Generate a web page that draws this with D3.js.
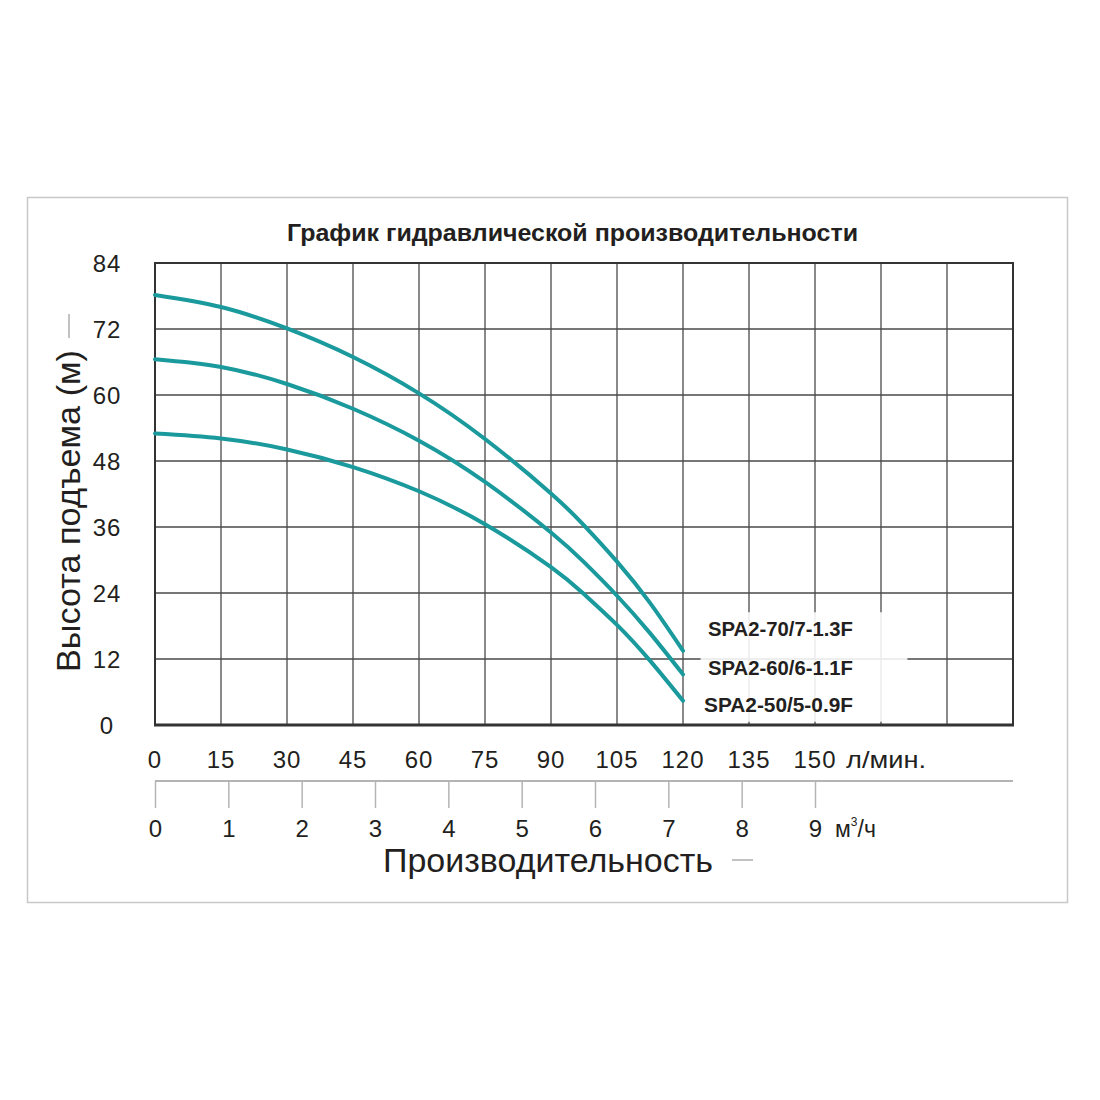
<!DOCTYPE html>
<html>
<head>
<meta charset="utf-8">
<script src="https://cdn.jsdelivr.net/npm/d3@7"></script>
<style>
  body { margin: 0; background: #fff; }
  text { font-family: Arial, "Liberation Sans", sans-serif; fill: #231f20; }
</style>
</head>
<body>
<div id="chart"></div>
<script>
// flow points (l/min) the curves were read at
var flow = [0, 15, 30, 45, 60, 75, 90, 97.5, 105, 112.5, 120]

// head (m) for each pump
var head70 = [78.2, 76.0, 72.1, 66.9, 60.3, 52.0, 42.1, 36.3, 29.7, 22.2, 13.5]
var head60 = [66.5, 65.1, 62.0, 57.5, 51.7, 44.2, 35.0, 29.6, 23.5, 16.7, 9.2]
var head50 = [53.0, 52.1, 50.1, 46.9, 42.5, 36.5, 28.7, 23.8, 18.2, 11.7, 4.4]

var pumpNames = ["SPA2-70/7-1.3F", "SPA2-60/6-1.1F", "SPA2-50/5-0.9F"]

// tick labels
var flowTicks = [0, 15, 30, 45, 60, 75, 90, 105, 120, 135, 150]
var flowGrid = [0, 15, 30, 45, 60, 75, 90, 105, 120, 135, 150, 165, 180, 195]
var headTicks = [0, 12, 24, 36, 48, 60, 72, 84]
var cubicTicks = [0, 1, 2, 3, 4, 5, 6, 7, 8, 9]

var title = "График гидравлической производительности"
var yTitle = "Высота подъема (м)"
var xTitle = "Производительность"

var dims = {
    width: 1100,
    height: 1100,
    margin: { top: 263, left: 155, right: 87, bottom: 375 }
}
var plotW = dims.width - dims.margin.left - dims.margin.right   // 858
var plotH = dims.height - dims.margin.top - dims.margin.bottom  // 462

var svg = d3.select("#chart")
    .append("svg")
    .attr("width", dims.width)
    .attr("height", dims.height)

// outer frame
svg.append("rect")
    .attr("x", 27.5).attr("y", 197.5)
    .attr("width", 1040).attr("height", 705)
    .attr("fill", "none")
    .attr("stroke", "#c8c8c8")
    .attr("stroke-width", 1.5)

svg.append("text")
    .attr("x", 287).attr("y", 241)
    .attr("font-size", 24)
    .attr("font-weight", "bold")
    .attr("textLength", 571)
    .attr("lengthAdjust", "spacingAndGlyphs")
    .text(title)

var x = d3.scaleLinear().domain([0, 195]).range([dims.margin.left, dims.margin.left + plotW])
var y = d3.scaleLinear().domain([0, 84]).range([dims.margin.top + plotH, dims.margin.top])
// m3/h : 1 m3/h = 1000/60 l/min
var xm = d3.scaleLinear().domain([0, 195 * 60 / 1000]).range(x.range())

// grid
var grid = svg.append("g")
grid.selectAll("line.v")
    .data(flowGrid)
    .enter().append("line")
    .attr("class", "v")
    .attr("x1", function (d) { return x(d) }).attr("x2", function (d) { return x(d) })
    .attr("y1", y(0)).attr("y2", y(84))
    .attr("stroke", "#4a4a4a").attr("stroke-width", 1.3)
grid.selectAll("line.h")
    .data(headTicks)
    .enter().append("line")
    .attr("class", "h")
    .attr("x1", x(0)).attr("x2", x(195))
    .attr("y1", function (d) { return y(d) }).attr("y2", function (d) { return y(d) })
    .attr("stroke", "#4a4a4a").attr("stroke-width", 1.3)

// white box behind the pump names
svg.append("rect")
    .attr("x", x(124)).attr("y", y(20.5))
    .attr("width", x(171) - x(124)).attr("height", y(0.6) - y(20.5))
    .attr("fill", "#fff").attr("opacity", 0.88)

// frame borders
svg.append("rect")
    .attr("x", x(0)).attr("y", y(84))
    .attr("width", plotW).attr("height", plotH)
    .attr("fill", "none").attr("stroke", "#333").attr("stroke-width", 2)
svg.append("line")
    .attr("x1", x(0) - 1).attr("x2", x(195) + 1)
    .attr("y1", y(0)).attr("y2", y(0))
    .attr("stroke", "#333").attr("stroke-width", 3)

// curves
var line = d3.line()
    .x(function (d) { return x(d[0]) })
    .y(function (d) { return y(d[1]) })
    .curve(d3.curveNatural)

var series = [head70, head60, head50]
svg.append("g")
    .selectAll("path")
    .data(series)
    .enter().append("path")
    .attr("d", function (s) { return line(flow.map(function (f, i) { return [f, s[i]] })) })
    .attr("fill", "none")
    .attr("stroke", "#1a9a9c")
    .attr("stroke-width", 4)
    .attr("stroke-linecap", "round")

// pump names
var nameY = [636, 675, 712]
svg.append("g")
    .selectAll("text")
    .data(pumpNames)
    .enter().append("text")
    .attr("x", function (d, i) { return i == 2 ? 704 : 708 })
    .attr("y", function (d, i) { return nameY[i] })
    .attr("font-size", 21)
    .attr("font-weight", "bold")
    .attr("textLength", function (d, i) { return i == 2 ? 149 : 145 })
    .attr("lengthAdjust", "spacingAndGlyphs")
    .text(function (d) { return d })

// y tick labels
svg.append("g")
    .selectAll("text")
    .data(headTicks)
    .enter().append("text")
    .attr("x", 107)
    .attr("y", function (d) { return y(d) })
    .attr("dy", "0.36em")
    .attr("text-anchor", "middle")
    .attr("font-size", 24)
    .attr("letter-spacing", 1)
    .text(function (d) { return d })

// flow tick labels (l/min)
svg.append("g")
    .selectAll("text")
    .data(flowTicks)
    .enter().append("text")
    .attr("x", function (d) { return x(d) })
    .attr("y", 768)
    .attr("text-anchor", "middle")
    .attr("font-size", 24)
    .attr("letter-spacing", 1)
    .text(function (d) { return d })
svg.append("text")
    .attr("x", 846).attr("y", 768)
    .attr("font-size", 24)
    .attr("textLength", 80)
    .attr("lengthAdjust", "spacingAndGlyphs")
    .text("л/мин.")

// m3/h axis
var mAxis = svg.append("g")
    .attr("transform", "translate(0,781)")
    .call(d3.axisBottom(xm).tickValues(cubicTicks).tickSize(27).tickSizeOuter(0).tickFormat(d3.format("d")))
mAxis.select(".domain").attr("stroke", "#b4b4b4").attr("stroke-width", 2)
    .attr("d", "M" + x(0) + ",0H" + x(195))
mAxis.selectAll(".tick line").attr("stroke", "#b4b4b4").attr("stroke-width", 1.5)
mAxis.selectAll(".tick text")
    .attr("y", 56)
    .attr("dy", 0)
    .attr("font-size", 24)
    .attr("font-family", null)
    .attr("fill", "#231f20")
var unit = svg.append("text")
    .attr("x", xm(9) + 20).attr("y", 837)
    .attr("font-size", 23)
unit.append("tspan").text("м")
unit.append("tspan").attr("font-size", 12).attr("dy", -11).text("3")
unit.append("tspan").attr("dy", 11).text("/ч")

// axis titles
svg.append("text")
    .attr("x", 383).attr("y", 872)
    .attr("font-size", 33)
    .attr("textLength", 330)
    .attr("lengthAdjust", "spacingAndGlyphs")
    .text(xTitle)
svg.append("line")
    .attr("x1", 732).attr("x2", 753).attr("y1", 860).attr("y2", 860)
    .attr("stroke", "#999").attr("stroke-width", 1.2)

svg.append("text")
    .attr("transform", "translate(80,672) rotate(-90)")
    .attr("font-size", 33)
    .attr("textLength", 322)
    .attr("lengthAdjust", "spacingAndGlyphs")
    .text(yTitle)
svg.append("line")
    .attr("x1", 69).attr("x2", 69).attr("y1", 314).attr("y2", 338)
    .attr("stroke", "#999").attr("stroke-width", 1.2)
</script>
</body>
</html>
